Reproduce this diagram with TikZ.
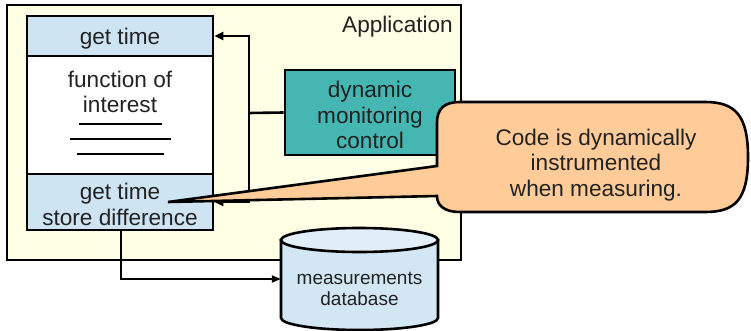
\documentclass[tikz,border=0pt]{standalone}
\usepackage{fontspec}
\setmainfont{Liberation Sans}
\usetikzlibrary{arrows.meta}
\definecolor{appbg}{HTML}{FFFFE6}
\definecolor{bandbg}{HTML}{CFE4F3}
\definecolor{tealbg}{HTML}{45B6B1}
\definecolor{callbg}{HTML}{FFCC99}
\definecolor{dbbody}{HTML}{D2E6F4}
\definecolor{dbtop}{HTML}{E2EFF9}
\definecolor{txt}{HTML}{222222}
\tikzset{
  bigfont/.style={font=\fontsize{22.6}{25.5}\selectfont, text=txt, align=center},
  boxline/.style={draw=black, line width=2.6pt},
  band/.style={boxline, fill=bandbg, minimum width=186pt, inner sep=0pt},
  conn/.style={line width=2.6pt, -{Triangle[length=9pt,width=8pt]}},
}
\begin{document}
\begin{tikzpicture}[x=1pt,y=-1pt]
\useasboundingbox (0,0) rectangle (751,331);
% application frame
\node[boxline, fill=appbg, minimum width=454pt, minimum height=255pt, inner sep=0pt] (app) at (234,132.5) {};
\node[bigfont, anchor=east, inner sep=0pt] (applbl) at (453,27) {Application};
% function box
\node[boxline, fill=white, minimum width=186pt, minimum height=118pt, inner sep=0pt] (func) at (120,115) {};
\node[bigfont, inner sep=0pt] (functxt) at (120,92) {function of\\interest};
\node[band, minimum height=40pt] (gt1) at (120,36) {};
\node[bigfont, inner sep=0pt] (gt1txt) at (120,38.5) {get time};
\node[band, minimum height=56pt] (gt2) at (120,202) {};
\node[bigfont, inner sep=0pt] (gt2txt) at (120,204.5) {get time\\store difference};
\draw[line width=2.4pt] (79,124) -- (162,124);
\draw[line width=2.4pt] (70,139) -- (171,139);
\draw[line width=2.4pt] (77,154) -- (164,154);
% dynamic monitoring control
\node[boxline, fill=tealbg, minimum width=170pt, minimum height=85pt, inner sep=0pt] (dmc) at (370,112.5) {};
\node[bigfont, inner sep=0pt] (dmctxt) at (370,115) {dynamic\\monitoring\\control};
% connectors
\coordinate (j) at (249,113);
\draw[line width=2.6pt] (dmc.west) -- (j);
\draw[conn] (j) |- (gt1.east);
\draw[conn] (j) |- (gt2.east);
% database
\node[minimum width=157pt, minimum height=102pt, inner sep=0pt] (db) at (359.5,279) {};
\draw[line width=2.6pt, fill=dbbody] (281,240) -- (281,318)
  .. controls (281,324.6) and (316.3,330) .. (359.5,330)
  .. controls (402.7,330) and (438,324.6) .. (438,318) -- (438,240) -- cycle;
\draw[line width=2.6pt, fill=dbtop] (359.5,240) ellipse [x radius=78.5, y radius=12];
\node[font=\fontsize{19}{20.5}\selectfont, text=txt, align=center, inner sep=0pt] (dbtxt) at (359.5,289) {measurements\\database};
\draw[line width=2pt, -{Triangle[length=9pt,width=7pt]}] (gt2.south -| 121,230) |- (db.west);
% callout
\coordinate (tip) at (168,202);
\draw[line width=2.6pt, fill=callbg, line join=miter] (460,102) -- (705,102)
  .. controls (735,102) and (748,115) .. (748,157)
  .. controls (748,200) and (735,212) .. (705,212) -- (460,212)
  .. controls (445,212) and (437,206) .. (437,196) -- (tip) -- (437,166)
  -- (437,123) .. controls (437,108) and (445,102) .. (460,102) -- cycle;
\node[bigfont, inner sep=0pt] (ct) at (596,165) {Code is dynamically\\instrumented\\when measuring.};
\end{tikzpicture}
\end{document}
